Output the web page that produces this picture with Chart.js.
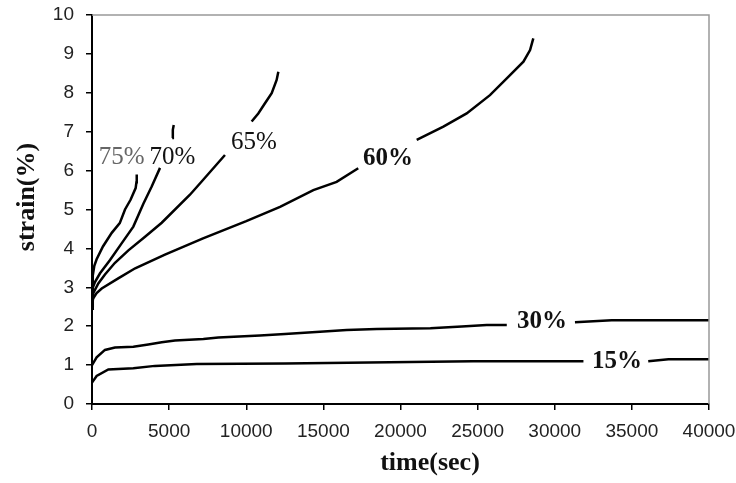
<!DOCTYPE html>
<html>
<head>
<meta charset="utf-8">
<script src="https://cdn.jsdelivr.net/npm/chart.js@4/dist/chart.umd.min.js"></script>
<style>
  body { margin: 0; background: #fff; }
  #wrap { width: 736px; height: 483px; position: relative; }
</style>
</head>
<body>
<div id="wrap"><canvas id="creepChart"></canvas></div>
<script>
// Creep curves: time (sec) and strain (%), null = gap for the label
const time75 = [0, 50, 150, 300, 710, 1280, 1800, 2140, 2500, 2830, 2880, 2900];
const strain75 = [2.9, 3.3, 3.55, 3.72, 4.05, 4.4, 4.65, 5.0, 5.25, 5.55, 5.7, 5.9];

const time70 = [0, 60, 200, 520, 1170, 1920, 2680, 3330, 3870, 4410, null, 5200, 5240, 5300];
const strain70 = [2.7, 3.0, 3.14, 3.36, 3.7, 4.13, 4.56, 5.15, 5.59, 6.07, null, 6.84, 7.05, 7.17];

const time65 = [0, 80, 410, 840, 1490, 2360, 3440, 4520, 6350, 7110, 8620, null, 10350, 10780, 11215, 11650, 11970, 12080];
const strain65 = [2.6, 2.85, 3.1, 3.33, 3.63, 3.95, 4.3, 4.66, 5.38, 5.72, 6.4, null, 7.26, 7.47, 7.73, 7.99, 8.33, 8.54];

const time60 = [0, 50, 300, 630, 1700, 2800, 4730, 7200, 10000, 12190, 14350, 15860, 17260, null, 21050, 22780, 24290, 25800, 26890, 27970, 28400, 28610];
const strain60 = [2.45, 2.7, 2.85, 2.97, 3.23, 3.49, 3.84, 4.26, 4.7, 5.07, 5.5, 5.71, 6.06, null, 6.79, 7.13, 7.47, 7.94, 8.37, 8.8, 9.1, 9.4];

const time30 = [0, 300, 840, 1490, 2680, 3650, 4520, 5380, 7220, 8190, 10890, 12510, 14780, 16510, 18460, 21940, 23970, 25590, 26890, null, 31310, 33690, 40000];
const strain30 = [1.0, 1.2, 1.39, 1.45, 1.47, 1.53, 1.59, 1.63, 1.67, 1.71, 1.76, 1.8, 1.86, 1.9, 1.93, 1.95, 1.99, 2.03, 2.03, null, 2.1, 2.15, 2.15];

const time15 = [0, 300, 1060, 2680, 4080, 6790, 12510, 16600, 24720, 31860, null, 36060, 37370, 40000];
const strain15 = [0.55, 0.72, 0.89, 0.92, 0.98, 1.03, 1.04, 1.06, 1.1, 1.1, null, 1.1, 1.15, 1.15];

const seriesNames = ['75%', '70%', '65%', '60%', '30%', '15%'];
const xTicks = [0, 5000, 10000, 15000, 20000, 25000, 30000, 35000, 40000];
const yTicks = [0, 1, 2, 3, 4, 5, 6, 7, 8, 9, 10];

function toPoints(ts, ss) {
  return ts.map((t, i) => ({ x: t, y: ss[i] }));
}

const curves = [
  toPoints(time75, strain75),
  toPoints(time70, strain70),
  toPoints(time65, strain65),
  toPoints(time60, strain60),
  toPoints(time30, strain30),
  toPoints(time15, strain15)
];

// where each curve's name sits, in data units
const labelSpots = [
  { t: 1925, s: 6.35, color: '#666', weight: '' },
  { t: 5220, s: 6.35, color: '#111', weight: '' },
  { t: 10500, s: 6.72, color: '#111', weight: '' },
  { t: 19190, s: 6.32, color: '#111', weight: 'bold ' },
  { t: 29170, s: 2.11, color: '#111', weight: 'bold ' },
  { t: 34040, s: 1.09, color: '#111', weight: 'bold ' }
];

// frame on top/right, curve names and axis titles
const decorations = {
  id: 'decorations',
  afterDatasetsDraw(chart) {
    const { ctx, chartArea: a, scales } = chart;
    ctx.save();
    ctx.strokeStyle = '#999';
    ctx.lineWidth = 1.5;
    ctx.beginPath();
    ctx.moveTo(a.left, a.top);
    ctx.lineTo(a.right, a.top);
    ctx.lineTo(a.right, a.bottom);
    ctx.stroke();

    ctx.textAlign = 'center';
    ctx.textBaseline = 'middle';
    seriesNames.forEach((name, i) => {
      const spot = labelSpots[i];
      ctx.font = spot.weight + '25px "Liberation Serif", "Times New Roman", serif';
      ctx.fillStyle = spot.color;
      ctx.fillText(name, scales.x.getPixelForValue(spot.t), scales.y.getPixelForValue(spot.s));
    });

    ctx.fillStyle = '#111';
    ctx.font = 'bold 26px "Liberation Serif", "Times New Roman", serif';
    ctx.fillText('time(sec)', 430, 463);
    ctx.translate(27, 197);
    ctx.rotate(-Math.PI / 2);
    ctx.fillText('strain(%)', 0, 0);
    ctx.restore();
  }
};

const ctx = document.getElementById('creepChart').getContext('2d');
new Chart(ctx, {
  type: 'line',
  data: {
    datasets: curves.map((pts, i) => ({
      label: seriesNames[i],
      data: pts,
      borderColor: '#000',
      borderWidth: 2.5,
      pointRadius: 0,
      tension: 0,
      spanGaps: false,
      fill: false
    }))
  },
  options: {
    responsive: true,
    maintainAspectRatio: false,
    animation: false,
    layout: { padding: { left: 0, right: 27, top: 15, bottom: 0 } },
    plugins: {
      legend: { display: false },
      tooltip: { enabled: false }
    },
    scales: {
      x: {
        type: 'linear',
        min: 0,
        max: 40000,
        afterBuildTicks: (scale) => { scale.ticks = xTicks.map(v => ({ value: v })); },
        afterFit: (scale) => {
          scale.height = 79;
          scale.paddingLeft = 0;
          scale.paddingRight = 0;
        },
        ticks: {
          color: '#222',
          font: { family: '"Liberation Sans", Arial, sans-serif', size: 19 },
          padding: 10,
          maxRotation: 0,
          callback: (v) => String(v)
        },
        grid: { drawOnChartArea: false, drawTicks: true, tickLength: 6, color: '#000', lineWidth: 1.5 },
        border: { color: '#000', width: 2 }
      },
      y: {
        min: 0,
        max: 10,
        afterBuildTicks: (scale) => { scale.ticks = yTicks.map(v => ({ value: v })); },
        afterFit: (scale) => {
          scale.width = 92;
          scale.paddingTop = 0;
          scale.paddingBottom = 0;
        },
        ticks: {
          color: '#222',
          font: { family: '"Liberation Sans", Arial, sans-serif', size: 19 },
          padding: 12
        },
        grid: { drawOnChartArea: false, drawTicks: true, tickLength: 6, color: '#000', lineWidth: 1.5 },
        border: { color: '#000', width: 2 }
      }
    }
  },
  plugins: [decorations]
});
</script>
</body>
</html>
